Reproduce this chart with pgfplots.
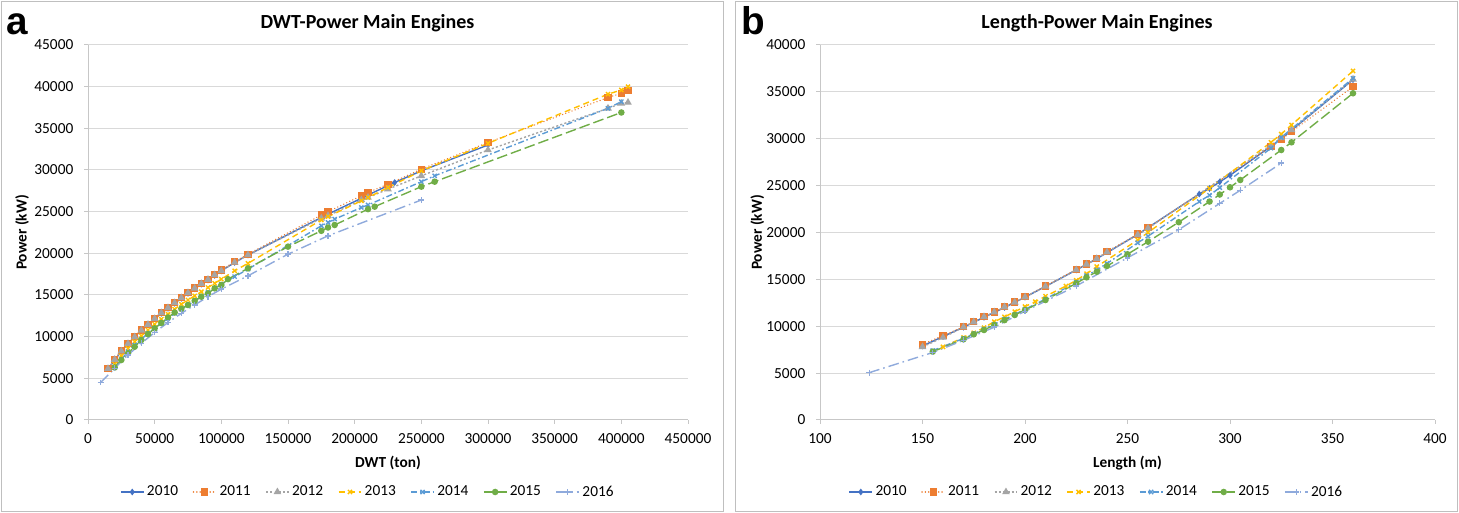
\documentclass[border=0pt]{standalone}
\usepackage{pgfplots}
\pgfplotsset{compat=1.18}
\usepackage{fontspec}
\setmainfont{Carlito}
\newfontfamily\arialfont{Liberation Sans}
\definecolor{c2010}{HTML}{4472C4}
\definecolor{c2011}{HTML}{ED7D31}
\definecolor{c2012}{HTML}{A5A5A5}
\definecolor{c2013}{HTML}{FFC000}
\definecolor{c2014}{HTML}{5B9BD5}
\definecolor{c2015}{HTML}{70AD47}
\definecolor{c2016}{HTML}{8FAADC}
\definecolor{framegray}{HTML}{BFBFBF}
\definecolor{gridgray}{HTML}{D9D9D9}
\pgfplotsset{
 myaxis/.style={
  scale only axis, height=281.25pt, ymin=0,
  axis x line*=bottom, axis y line*=left,
  axis line style={gridgray!80!gray, line width=0.75pt},
  tick style={gridgray!80!gray, line width=0.75pt},
  major tick length=3pt, tick align=outside,
  ymajorgrids, grid style={gridgray, line width=0.75pt},
  scaled ticks=false,
  tick label style={font=\fontsize{11.5}{13}\selectfont},
  xticklabel style={yshift=-4pt},
  yticklabel style={xshift=-4.5pt},
  /pgf/number format/fixed, /pgf/number format/1000 sep={},
  /pgf/number format/assume math mode=true,
  label style={font=\fontsize{11.5}{13}\selectfont\bfseries},
  xlabel style={at={(axis description cs:0.5,-0.115)}, anchor=center},
  legend columns=7,
  legend style={draw=none, font=\fontsize{11.5}{13}\selectfont, anchor=center,
    /tikz/every even column/.append style={column sep=9pt}},
  every axis plot/.append style={line width=1.05pt},
 },
 s2010/.style={c2010, solid, mark=diamond*, mark size=1.7pt, mark options={solid, fill=c2010}},
 s2011/.style={c2011, dash pattern=on 0.1pt off 2.4pt, line cap=round, mark=square*, mark size=2.2pt, mark options={solid, fill=c2011, line cap=butt}},
 s2012/.style={c2012, dash pattern=on 1.6pt off 1.6pt, mark=triangle*, mark size=2.3pt, mark options={solid, fill=c2012}},
 s2013/.style={c2013, dash pattern=on 4.5pt off 3pt, mark=x, mark size=2.2pt, mark options={solid}},
 s2014/.style={c2014, dash pattern=on 4.5pt off 2pt on 1.2pt off 2pt, mark=x, mark size=2.2pt, mark options={solid}},
 s2015/.style={c2015, dash pattern=on 8pt off 3pt, mark=*, mark size=1.9pt, mark options={solid, fill=c2015}},
 s2016/.style={c2016, dash pattern=on 8pt off 3pt on 1.2pt off 3pt, mark=+, mark size=2.2pt, mark options={solid}},
}
\begin{document}
\begin{tikzpicture}[x=0.75pt, y=0.75pt]
\useasboundingbox (0,0) rectangle (1459,513);
\draw[framegray, line width=0.75pt] (1.5,1.5) rectangle (723,511.5);
\draw[framegray, line width=0.75pt] (735,1.5) rectangle (1457.5,511.5);
\node[font=\fontsize{15}{17}\selectfont\bfseries] at (367.5,490) {DWT-Power Main Engines};
\node[font=\fontsize{15}{17}\selectfont\bfseries] at (1097,490) {Length-Power Main Engines};

\begin{axis}[myaxis, at={(66pt,69.75pt)}, anchor=south west, width=450pt,
  xmin=0, xmax=450000, xtick={0,50000,...,450000},
  ymax=45000, ytick={0,5000,...,45000},
  xlabel={DWT (ton)}, ylabel={Power (kW)},
  ylabel style={at={(axis description cs:-0.11,0.5)}, anchor=center},
  legend style={at={(0.467,-0.192)}}]
\addplot[s2010] coordinates {(15000,6150)(20000,7150)(25000,8250)(30000,9150)(35000,9950)(40000,10750)(45000,11450)(50000,12150)(55000,12800)(60000,13400)(65000,14000)(70000,14600)(75000,15200)(80000,15750)(85000,16300)(90000,16800)(95000,17350)(100000,17900)(110000,18900)(120000,19800)(175000,24300)(180000,24700)(205000,26600)(210000,27000)(230000,28500)(250000,29900)(300000,33000)};
\addplot[s2011] coordinates {(15000,6200)(20000,7300)(25000,8300)(30000,9200)(35000,10000)(40000,10800)(45000,11500)(50000,12200)(55000,12900)(60000,13500)(65000,14100)(70000,14700)(75000,15300)(80000,15850)(85000,16400)(90000,16900)(95000,17450)(100000,18000)(110000,19000)(120000,19900)(175000,24600)(180000,25000)(205000,26900)(210000,27300)(225000,28300)(250000,30100)(300000,33300)(390000,38700)(400000,39200)(405000,39500)};
\addplot[s2012] coordinates {(15000,6150)(20000,7250)(25000,8250)(30000,9150)(35000,9950)(40000,10750)(45000,11450)(50000,12150)(55000,12850)(60000,13450)(65000,14050)(70000,14650)(75000,15250)(80000,15800)(85000,16350)(90000,16850)(95000,17400)(100000,17900)(110000,18900)(120000,19800)(175000,24200)(180000,24500)(205000,26400)(210000,26700)(225000,27700)(250000,29300)(300000,32400)(390000,37400)(400000,38000)(405000,38100)};
\addplot[s2013] coordinates {(20000,6700)(25000,7700)(30000,8600)(35000,9400)(40000,10100)(45000,10800)(50000,11500)(55000,12100)(60000,12700)(65000,13300)(70000,13900)(75000,14400)(80000,14900)(85000,15400)(90000,15900)(95000,16400)(100000,16900)(110000,17900)(120000,18800)(175000,24000)(180000,24400)(205000,26300)(210000,26700)(225000,27900)(250000,29900)(300000,33200)(390000,39100)(400000,39600)(405000,40000)};
\addplot[s2014] coordinates {(20000,6300)(25000,7300)(30000,8200)(35000,9000)(40000,9700)(45000,10400)(50000,11000)(55000,11600)(60000,12200)(65000,12800)(70000,13300)(75000,13800)(80000,14300)(85000,14800)(90000,15300)(95000,15800)(100000,16300)(110000,17200)(120000,18100)(175000,23300)(180000,23700)(185000,24100)(205000,25500)(210000,25800)(250000,28600)(260000,29300)(390000,37400)(400000,38200)};
\addplot[s2015] coordinates {(20000,6300)(25000,7200)(30000,8000)(35000,8800)(40000,9600)(45000,10300)(50000,11000)(55000,11650)(60000,12300)(65000,12900)(70000,13350)(75000,13800)(80000,14300)(85000,14800)(90000,15200)(95000,15800)(100000,16200)(105000,16900)(120000,18200)(150000,20800)(175000,22700)(180000,23100)(185000,23400)(210000,25300)(215000,25600)(250000,28000)(260000,28600)(400000,36900)};
\addplot[s2016] coordinates {(9500,4500)(20000,6200)(30000,7800)(40000,9200)(50000,10500)(60000,11700)(70000,12800)(80000,13800)(90000,14800)(100000,15700)(120000,17300)(150000,19900)(180000,22100)(250000,26400)};
\legend{2010,2011,2012,2013,2014,2015,2016}
\end{axis}

\begin{axis}[myaxis, at={(615pt,69.75pt)}, anchor=south west, width=461.25pt,
  xmin=100, xmax=400, xtick={100,150,...,400},
  ymax=40000, ytick={0,5000,...,40000},
  xlabel={Length (m)}, ylabel={Power (kW)},
  ylabel style={at={(axis description cs:-0.102,0.5)}, anchor=center},
  legend style={at={(0.45,-0.192)}}]
\addplot[s2010] coordinates {(150,7900)(160,8900)(170,9900)(180,10950)(190,12000)(200,13100)(210,14250)(225,16000)(235,17200)(255,19800)(285,24100)(290,24700)(295,25400)(300,26100)(320,29200)(325,30000)(360,36300)};
\addplot[s2011] coordinates {(150,8070)(160,9000)(170,9950)(175,10490)(180,11020)(185,11520)(190,12090)(195,12590)(200,13150)(210,14290)(225,16070)(230,16640)(235,17250)(240,17950)(255,19840)(260,20510)(320,29150)(325,29940)(330,30750)(360,35550)};
\addplot[s2012] coordinates {(150,7800)(160,8800)(170,9900)(175,10450)(180,11000)(185,11500)(190,12050)(195,12550)(200,13100)(210,14250)(225,16000)(230,16600)(235,17200)(240,17900)(255,19750)(260,20450)(320,29300)(325,30100)(330,30950)(360,36340)};
\addplot[s2013] coordinates {(160,7800)(170,8800)(175,9300)(180,9850)(185,10490)(190,11000)(195,11550)(200,12100)(205,12620)(210,13200)(220,14290)(225,14900)(230,15600)(235,16360)(255,19200)(260,20000)(290,24710)(320,29620)(325,30500)(330,31470)(360,37230)};
\addplot[s2014] coordinates {(155,7400)(170,8700)(175,9200)(180,9700)(185,10200)(190,10750)(195,11250)(200,11800)(210,12900)(225,14700)(230,15400)(235,16000)(240,16700)(255,18900)(260,19600)(285,23300)(290,23970)(295,24780)(320,29000)(325,30150)(360,36450)};
\addplot[s2015] coordinates {(155,7290)(170,8610)(175,9140)(180,9600)(185,10130)(190,10650)(195,11200)(200,11730)(210,12800)(225,14580)(230,15220)(235,15820)(240,16430)(250,17680)(260,19020)(275,21100)(290,23300)(295,24050)(300,24820)(305,25600)(325,28800)(330,29620)(360,34850)};
\addplot[s2016] coordinates {(124,5050)(155,7200)(170,8500)(185,9900)(200,11600)(225,14300)(250,17300)(275,20300)(295,23100)(305,24500)(325,27400)};
\legend{2010,2011,2012,2013,2014,2015,2016}
\end{axis}

\node[anchor=base west, inner sep=0pt, fill=white, font=\fontsize{29}{29}\selectfont\arialfont\bfseries] at (6,478) {a};
\node[anchor=base west, inner sep=0pt, fill=white, font=\fontsize{29}{29}\selectfont\arialfont\bfseries] at (741,478) {b};
\end{tikzpicture}
\end{document}
